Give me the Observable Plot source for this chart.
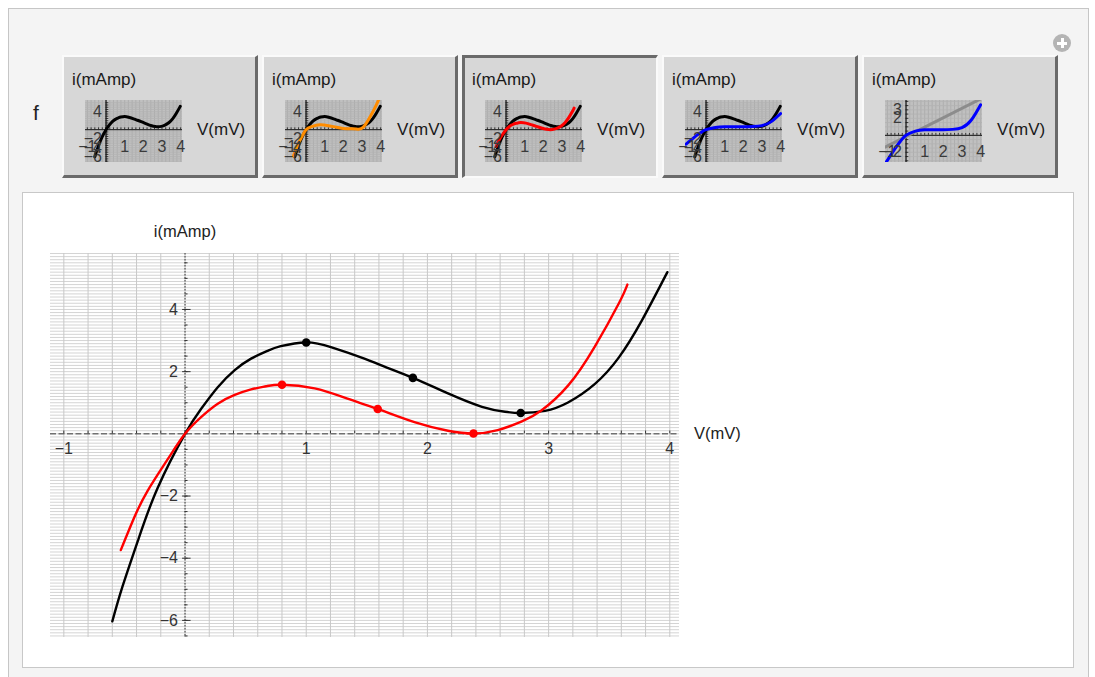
<!DOCTYPE html>
<html><head><meta charset="utf-8">
<script src="https://cdn.jsdelivr.net/npm/d3@7"></script>
<script src="https://cdn.jsdelivr.net/npm/@observablehq/plot@0.6"></script>
<style>
html,body{margin:0;padding:0;}
body{width:1095px;height:677px;overflow:hidden;background:#fff;font-family:"Liberation Sans",Arial,sans-serif;position:relative;}
#panel{position:absolute;left:8px;top:8px;width:1081px;height:690px;background:#f4f4f4;border:1px solid #c6c6c6;box-sizing:border-box;}
.btn{position:absolute;top:55px;width:196px;height:123px;background:#d7d7d7;box-sizing:border-box;
  border-top:2px solid #fafafa;border-left:2px solid #fafafa;border-right:3px solid #6a6a6a;border-bottom:3px solid #6a6a6a;}
.btn.sel{border-top:3px solid #6a6a6a;border-left:3px solid #6a6a6a;border-right:2px solid #fafafa;border-bottom:2px solid #fafafa;}
.lab{position:absolute;font-size:17px;color:#1a1a1a;line-height:18px;white-space:nowrap;}
.thumb{position:absolute;}
#flab{position:absolute;left:33px;top:101px;font-size:21px;color:#222;}
#plus{position:absolute;left:1053px;top:34px;width:18px;height:18px;border-radius:9px;background:#b4b4b4;}
#plus:before{content:"";position:absolute;left:4px;top:7.5px;width:10px;height:3px;background:#fff;}
#plus:after{content:"";position:absolute;left:7.5px;top:4px;width:3px;height:10px;background:#fff;}
#box{position:absolute;left:22px;top:192px;width:1052px;height:476px;background:#fff;border:1px solid #c8c8c8;box-sizing:border-box;}
#main{position:absolute;left:0;top:0;}
</style>
</head><body>
<div id="panel"></div>
<div id="flab">f</div>
<div id="plus"></div>
<div id="buttons"></div>
<div id="box"><div id="main"></div></div>
<script>
// ---- data ----
const blackV = [-0.6, -0.515, -0.39, -0.226, 0, 0.132, 0.27, 0.41, 0.545, 0.68, 0.79, 1.0, 1.21, 1.48, 1.62, 1.88, 2.17, 2.45, 2.64, 2.77, 2.97, 3.16, 3.38, 3.58, 3.77, 3.98];
const blackI = [-6.03, -4.9, -3.45, -1.74, 0, 0.8, 1.5, 2.05, 2.42, 2.67, 2.82, 2.94, 2.78, 2.42, 2.2, 1.8, 1.3, 0.87, 0.71, 0.67, 0.74, 1.01, 1.6, 2.46, 3.65, 5.2];
const redV = [-0.53, -0.42, -0.31, -0.14, 0, 0.13, 0.27, 0.41, 0.545, 0.67, 0.8, 1.07, 1.34, 1.59, 1.9, 2.17, 2.38, 2.58, 2.78, 2.94, 3.16, 3.38, 3.58, 3.65];
const redI = [-3.74, -2.7, -1.84, -0.8, 0, 0.53, 0.97, 1.25, 1.43, 1.53, 1.58, 1.46, 1.13, 0.8, 0.37, 0.1, 0.01, 0.12, 0.4, 0.75, 1.55, 2.8, 4.2, 4.8];
const blackPtV = [1.0, 1.88, 2.77];
const blackPtI = [2.94, 1.8, 0.67];
const redPtV = [0.8, 1.59, 2.38];
const redPtI = [1.58, 0.8, 0.01];
const orangeV = [-0.68, -0.4, -0.2, 0, 0.3, 0.75, 1.2, 1.7, 2.2, 2.7, 3.08, 3.6, 3.9];
const orangeI = [-5.9, -3.0, -1.4, 0, 0.7, 1.1, 0.9, 0.5, 0.2, 0.15, 0.6, 4.1, 6.7];
const blueV = [-1.07, -0.6, -0.3, 0, 0.5, 1.0, 1.5, 2.0, 2.5, 3.0, 3.5, 4.0];
const blueI = [-3.2, -1.6, -0.7, 0, 0.5, 0.65, 0.66, 0.65, 0.7, 0.9, 1.8, 3.6];
const grayV = [-1.12, 4.1];
const grayI = [-1.38, 4.4];
const xTickLabels = [-1, 1, 2, 3, 4];
const yTickLabels = [-6, -4, -2, 2, 4];
const buttonLeft = [62, 262, 462, 662, 862];

const zip = (V, I) => V.map((v, k) => ({V: v, I: I[k]}));
const black = zip(blackV, blackI), red = zip(redV, redI);
const blackPts = zip(blackPtV, blackPtI), redPts = zip(redPtV, redPtI);
const orange = zip(orangeV, orangeI), blue = zip(blueV, blueI), gray = zip(grayV, grayI);
const fmt = d => (d < 0 ? "\u2212" + (-d) : String(d));
const FONT = "Liberation Sans, Arial, sans-serif";

// ---- main chart ----
const gridV = d3.range(-1, 4.001, 0.2).map(d => +d.toFixed(2));
const gridH = d3.range(-6.5, 5.81, 0.1).map(d => +d.toFixed(2));
const xMinor = d3.range(-1, 4.001, 0.2).map(d => +d.toFixed(2));
const yMinor = d3.range(-6.5, 5.51, 0.5).map(d => +d.toFixed(2));
const yMajor = [-6, -4, -2, 2, 4];

const main = Plot.plot({
  width: 1050, height: 474,
  marginLeft: 27, marginRight: 394, marginTop: 60, marginBottom: 30,
  x: {domain: [-1.11, 4.08], axis: null},
  y: {domain: [-6.55, 5.8], axis: null},
  style: {background: "transparent", fontFamily: FONT, fontSize: "16px", overflow: "visible"},
  marks: [
    Plot.ruleY(gridH, {stroke: "#d4d4d4", strokeWidth: 1}),
    Plot.ruleX(gridV, {stroke: "#c8c8c8", strokeWidth: 1}),
    Plot.ruleY([0], {stroke: "#3a3a3a", strokeDasharray: "6,2.5"}),
    Plot.ruleX([0], {stroke: "#3a3a3a", strokeDasharray: "1.5,1.5"}),
    Plot.ruleX(xMinor, {x: d => d, y1: 0, y2: 0.09, stroke: "#333"}),
    Plot.ruleY(yMinor, {y: d => d, x1: 0, x2: 0.025, stroke: "#333"}),
    Plot.ruleY(yMajor, {y: d => d, x1: -0.02, x2: 0.05, stroke: "#333"}),
    Plot.text(xTickLabels, {x: d => d, y: 0, dy: 15, text: fmt, fill: "#333", fontSize: 16}),
    Plot.text(yTickLabels, {x: 0, y: d => d, dx: -7, textAnchor: "end", text: fmt, fill: "#333", fontSize: 16}),
    Plot.text(["i(mAmp)"], {x: 0, y: 6.5, text: d => d, fill: "#222", fontSize: 16.5}),
    Plot.text(["V(mV)"], {x: 4.2, y: 0, text: d => d, textAnchor: "start", fill: "#222", fontSize: 16.5}),
    Plot.line(black, {x: "V", y: "I", stroke: "black", strokeWidth: 2.4, curve: "natural"}),
    Plot.line(red, {x: "V", y: "I", stroke: "#ff0000", strokeWidth: 2.4, curve: "natural"}),
    Plot.dot(blackPts, {x: "V", y: "I", r: 4.3, fill: "black", stroke: "none"}),
    Plot.dot(redPts, {x: "V", y: "I", r: 4.3, fill: "#ff0000", stroke: "none"})
  ]
});
document.getElementById("main").appendChild(main);

// ---- setter buttons with thumbnails ----
const thumbs = [
  {series: [{d: black, c: "black"}], y: [-7.3, 6.5], yl: [4, -2, -4, -6]},
  {series: [{d: black, c: "black"}, {d: orange, c: "#ff8c00"}], y: [-7.3, 6.5], yl: [4, -2, -4, -6]},
  {series: [{d: black, c: "black"}, {d: red, c: "#ff0000"}], y: [-7.3, 6.5], yl: [4, -2, -4, -6]},
  {series: [{d: black, c: "black"}, {d: blue, c: "#0000ff"}], y: [-7.3, 6.5], yl: [4, -2, -4, -6]},
  {series: [{d: gray, c: "#8c8c8c"}, {d: blue, c: "#0000ff"}], y: [-3.2, 4.1], yl: [3, 2, -2]}
];
const tGridV = d3.range(-1, 4.001, 0.2).map(d => +d.toFixed(2));
const container = document.getElementById("buttons");
thumbs.forEach((t, k) => {
  const b = document.createElement("div");
  b.className = "btn" + (k === 2 ? " sel" : "");
  b.style.left = buttonLeft[k] + "px";
  container.appendChild(b);
  const bw = k === 2 ? 3 : 2;
  const l1 = document.createElement("div");
  l1.className = "lab"; l1.textContent = "i(mAmp)";
  l1.style.left = (10 - bw) + "px"; l1.style.top = (16 - bw) + "px";
  b.appendChild(l1);
  const l2 = document.createElement("div");
  l2.className = "lab"; l2.textContent = "V(mV)";
  l2.style.left = (135 - bw) + "px"; l2.style.top = (66 - bw) + "px";
  b.appendChild(l2);
  const hGrid = d3.range(Math.ceil(t.y[0] * 2) / 2, t.y[1], 0.5);
  const p = Plot.plot({
    width: 97, height: 62, margin: 0,
    x: {domain: [-1.1, 4.1], axis: null},
    y: {domain: t.y, axis: null},
    style: {background: "#c0c0c0", fontFamily: FONT, overflow: "visible"},
    marks: [
      Plot.ruleX(tGridV, {stroke: "#a9a9a9", strokeWidth: 0.8}),
      Plot.ruleY(hGrid, {stroke: "#b3b3b3", strokeWidth: 0.8}),
      Plot.ruleY([0], {stroke: "#111", strokeWidth: 1}),
      Plot.ruleX([0], {stroke: "#111", strokeWidth: 1.2}),
      Plot.ruleX(tGridV, {x: d => d, y1: 0, y2: (t.y[1] - t.y[0]) * 0.03, stroke: "#111", strokeWidth: 0.8}),
      Plot.ruleY(hGrid, {y: d => d, x1: 0, x2: 0.15, stroke: "#111", strokeWidth: 0.8}),
      ...t.series.map(s => Plot.line(s.d, {x: "V", y: "I", stroke: s.c, strokeWidth: 3, curve: "natural", clip: true})),
      Plot.text([1, 2, 3, 4], {x: d => d, y: 0, dy: 17, text: d => String(d), fill: "#3a3a3a", fontSize: 16}),
      Plot.text([-1], {x: d => d, y: 0, dy: 17, text: fmt, fill: "#3a3a3a", fontSize: 16}),
      Plot.text(t.yl, {x: 0, y: d => d, dx: -4, textAnchor: "end", text: fmt, fill: "#3a3a3a", fontSize: 16})
    ]
  });
  p.classList.add("thumb");
  p.style.left = (23 - bw) + "px";
  p.style.top = (45 - bw) + "px";
  b.appendChild(p);
});
</script>
</body></html>
